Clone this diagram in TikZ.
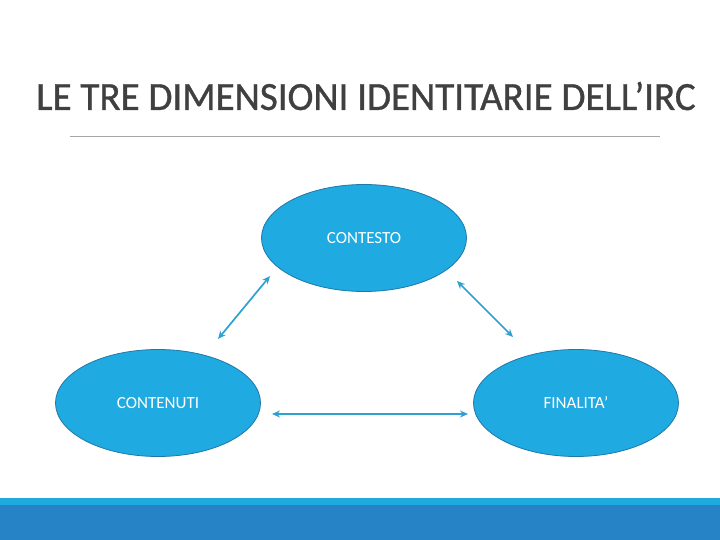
\documentclass[tikz,border=0pt]{standalone}
\usepackage{fontspec}
\setmainfont{Carlito}
\newfontfamily\titlefont{Carlito}[FakeBold=0.9]
\usetikzlibrary{arrows.meta, positioning, shapes.geometric}
\definecolor{titlegrey}{HTML}{404040}
\definecolor{rulegrey}{HTML}{A6A6A6}
\definecolor{bubble}{HTML}{1FAAE1}
\definecolor{bubbleline}{HTML}{1F78A8}
\definecolor{linkblue}{HTML}{2CA1D2}
\definecolor{stripe}{HTML}{1FAAE0}
\definecolor{band}{HTML}{2683C6}

\tikzset{
  dimension/.style={ellipse, draw=bubbleline, thick, fill=bubble, text=white,
    minimum width=205pt, minimum height=107pt, inner sep=0pt,
    font=\fontsize{17}{20}\selectfont},
  link/.style={linkblue, line width=1.7pt,
    {Stealth[length=8pt,width=7pt]}-{Stealth[length=8pt,width=7pt]}}
}

\begin{document}
\begin{tikzpicture}[x=1pt, y=-1pt]
  \useasboundingbox (0,0) rectangle (720,540);
  \fill[white] (0,0) rectangle (720,540);
  % Title and rule
  \node[text=titlegrey, font=\titlefont\fontsize{40}{48}\selectfont,
        xscale=0.975] (title) at (366,96)
       {LE TRE DIMENSIONI IDENTITARIE DELL’IRC};
  \draw[rulegrey, line width=0.8pt] (70,136) -- (660,136);
  % Dimensions
  \node[dimension] (contesto) at (364,238) {CONTESTO};
  \node[dimension] (contenuti) at (158,403) {CONTENUTI};
  \node[dimension] (finalita) at (576,403) {FINALITA’};
  % Arrow ends
  \coordinate (c1) at (270,276);
  \coordinate (c2) at (218,339);
  \coordinate (c3) at (457,281);
  \coordinate (c4) at (513,337);
  \coordinate (c5) at (272,414);
  \coordinate (c6) at (468,414);
  \draw[link] (c1) -- (c2);
  \draw[link] (c3) -- (c4);
  \draw[link] (c5) -- (c6);
  % Bottom bands
  \fill[stripe] (0,498) rectangle (720,505);
  \fill[band] (0,505) rectangle (720,540);
\end{tikzpicture}
\end{document}
